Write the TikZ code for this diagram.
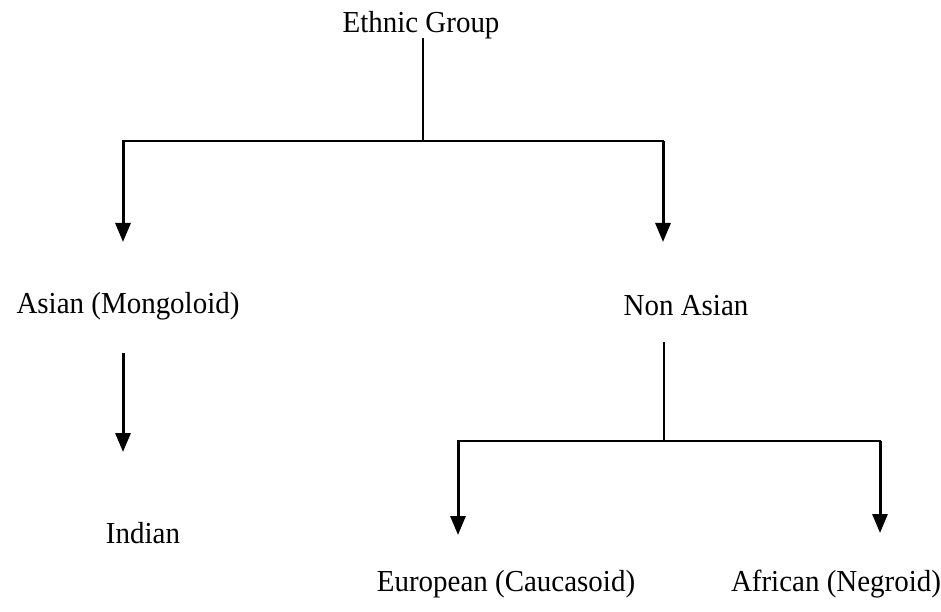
\documentclass[tikz,border=0pt]{standalone}
\usepackage{fontspec}
\setmainfont{Liberation Serif}[FakeStretch=0.95]
\usetikzlibrary{arrows.meta}
\begin{document}
\begin{tikzpicture}[x=1pt,y=-1pt,
  label/.style={inner sep=0pt,font=\fontsize{30.5}{32}\selectfont},
  bar/.style={line width=2pt,line cap=rect},
  thinbar/.style={line width=1.8pt},
  arrowline/.style={line width=3pt,-{Triangle[width=15pt,length=19pt]}}]
\useasboundingbox (0,0) rectangle (941,612);

% category labels
\node[label] (eg)       at (421,25)  {Ethnic Group};
\node[label] (asian)    at (128,306) {Asian (Mongoloid)};
\node[label] (nonasian) at (686,306) {Non Asian};
\node[label] (indian)   at (143,533) {Indian};
\node[label] (european) at (506,584) {European (Caucasoid)};
\node[label] (african)  at (836,584) {African (Negroid)};

% junctions and arrow tips
\coordinate (top)   at (423,141);
\coordinate (topL)  at (123,141);
\coordinate (topR)  at (663,141);
\coordinate (tipA)  at (123,242);
\coordinate (tipN)  at (663,242);
\coordinate (aiS)   at (123,353);
\coordinate (aiT)   at (123,452);
\coordinate (naS)   at (664,342);
\coordinate (mid)   at (664,441);
\coordinate (midL)  at (458,441);
\coordinate (midR)  at (880,441);
\coordinate (tipE)  at (458,535);
\coordinate (tipF)  at (880,533);

% first split
\draw[thinbar] (top |- 0,38) -- (top);
\draw[bar] (topL) -- (topR);
\draw[arrowline] (topL) -- (tipA);
\draw[arrowline] (topR) -- (tipN);

% Asian branch
\draw[arrowline] (aiS) -- (aiT);

% Non Asian split
\draw[thinbar] (naS) -- (mid);
\draw[bar] (midL) -- (midR);
\draw[arrowline] (midL) -- (tipE);
\draw[arrowline] (midR) -- (tipF);
\end{tikzpicture}
\end{document}
